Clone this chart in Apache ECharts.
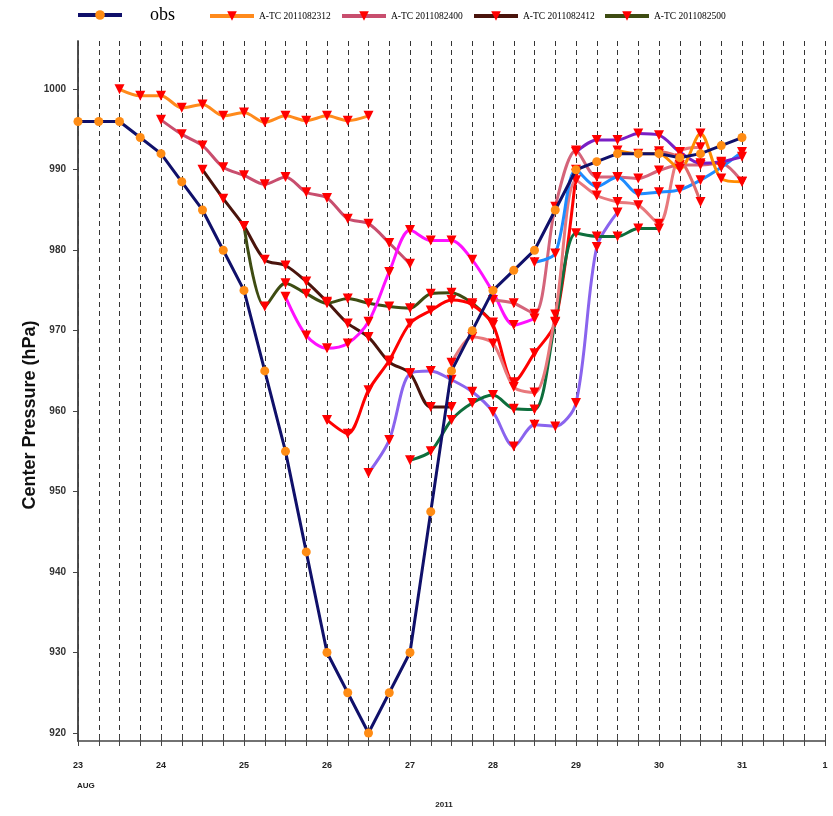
<!DOCTYPE html>
<html><head><meta charset="utf-8">
<script src="https://cdn.jsdelivr.net/npm/echarts@6/dist/echarts.min.js"></script>
<style>html,body{margin:0;padding:0;background:#fff}#c{width:833px;height:816px}</style>
</head><body><div id="c"></div>
<script>
// x in hours since 2011-08-23 00Z; forecasts every 6 h
const dayLabels = ['23','24','25','26','27','28','29','30','31','1'];
const yTicks = [920,930,940,950,960,970,980,990,1000];

const obs = [996,996,996,994,992,988.5,985,980,975,965,955,942.5,930,925,920,925,930,947.5,965,970,975,977.5,980,985,990,991,992,992,992,991.5,992,993,994];
const f2312 = [1000,999.2,999.2,997.7,998.1,996.7,997.1,995.9,996.7,996.1,996.7,996.1,996.7];
const f2400 = [996.2,994.4,993,990.3,989.3,988.2,989.1,987.2,986.5,983.9,983.3,980.9,978.3];
const f2412 = [990,986.4,983,978.8,978.1,976.1,973.6,970.9,969.2,966.1,964.7,960.5,960.5];
const f2500 = [983,973,975.9,974.6,973.4,974,973.4,973,972.8,974.6,974.7,973.4,971];
const f2512 = [974.2,969.4,967.8,968.4,971.1,977.3,982.5,981.2,981.2,978.8,974.8,970.7,971.5];
const f2600 = [958.9,957.2,962.6,966.3,970.9,972.5,973.8,973.2,970.7,963.6,967.2,971,989.5];
const f2612 = [952.3,956.4,964.7,965,963.9,962.4,959.9,955.6,958.3,958.1,961,980.4,984.7];
const f2700 = [953.9,955,958.9,961,962,960.3,960.2,971.1,982.1,981.7,981.7,982.7,982.7];
const f2712 = [966,969.2,968.4,963,962.3,972,988.7,986.8,986,985.6,983.3,992.2,992.8];
const f2800 = [973.8,973.4,972.1,985.4,992.4,989.1,989.1,988.9,989.9,990.6,990.6,990.8,988.5];
const f2812 = [978.5,979.6,990,987.9,989.1,987,987.2,987.5,988.7,990.3,992.2];
const f2900 = [992.2,993.7,993.7,994.5,994.3,992.2,990.8,991,991.6];
const f2912 = [992.4,992,992,990.1,994.5,988.9,988.5];
const f3000 = [992.3,991.4,986];

const tri = 'path://M0,0 L10,0 L5,10 Z';
const specs = [
  {name:'A-TC 2011082312', start:12,  vals:f2312, color:'#ff8a1c'},
  {name:'A-TC 2011082400', start:24,  vals:f2400, color:'#c84e6e'},
  {name:'A-TC 2011082412', start:36,  vals:f2412, color:'#4a140c'},
  {name:'A-TC 2011082500', start:48,  vals:f2500, color:'#3e4c12'},
  {name:'A-TC 2011082512', start:60,  vals:f2512, color:'#ff10ff'},
  {name:'A-TC 2011082600', start:72,  vals:f2600, color:'#ff0000'},
  {name:'A-TC 2011082612', start:84,  vals:f2612, color:'#8a64ee'},
  {name:'A-TC 2011082700', start:96,  vals:f2700, color:'#0e6e3c'},
  {name:'A-TC 2011082712', start:108, vals:f2712, color:'#e8787c'},
  {name:'A-TC 2011082800', start:120, vals:f2800, color:'#d4647a'},
  {name:'A-TC 2011082812', start:132, vals:f2812, color:'#1e8cff'},
  {name:'A-TC 2011082900', start:144, vals:f2900, color:'#7a1ec4'},
  {name:'A-TC 2011082912', start:156, vals:f2912, color:'#ff8c00'},
  {name:'A-TC 2011083000', start:168, vals:f3000, color:'#e06a6a'}
];

const series = [{
  name:'obs', type:'line', z:3,
  data: obs.map((v,i)=>[6*i, v]),
  symbol:'circle', symbolSize:9,
  lineStyle:{color:'#10106a', width:3},
  itemStyle:{color:'#ff8c14'},
  emphasis:{disabled:true}
}].concat(specs.map(s => ({
  name:s.name, type:'line', smooth:0.3, z:2,
  data: s.vals.map((v,i)=>[s.start+6*i, v]),
  symbol:tri, symbolSize:[10,10],
  lineStyle:{color:s.color, width:3},
  itemStyle:{color:'#ff0000'},
  emphasis:{disabled:true}
})));

const legendNames = ['obs'].concat(specs.slice(0,4).map(s=>s.name));
const legendLefts = [76, 208, 340, 472, 603];
const legends = legendNames.map((n, i) => ({
  left: legendLefts[i], top: i === 0 ? 6 : 11, padding: 0, itemWidth: 44, itemHeight: 12,
  lineStyle: {width: 4},
  data: [n],
  formatter: t => t === 'obs' ? '{o|obs}' : '{s|' + t + '}',
  textStyle: {rich: {
    o: {fontFamily:'Liberation Serif', fontSize:18, color:'#000', padding:[0,0,0,23]},
    s: {fontFamily:'Liberation Serif', fontSize:9.5, color:'#000'}
  }}
}));

const chart = echarts.init(document.getElementById('c'));
chart.setOption({
  animation:false,
  backgroundColor:'#fff',
  grid:{left:78, right:8, top:41, height:700},
  legend: legends,
  xAxis:[{
    type:'value', min:0, max:216, interval:6,
    axisLine:{lineStyle:{color:'#444', width:1.5}},
    axisTick:{show:true, length:5, lineStyle:{color:'#444'}},
    axisLabel:{margin:20, fontFamily:'Arial', fontWeight:'bold', fontSize:9, color:'#222',
      formatter: v => v % 24 === 0 ? dayLabels[v/24] : ''},
    splitLine:{show:true, lineStyle:{color:'#333', width:1, type:[5,4]}}
  },{
    type:'value', min:0, max:216, interval:6, position:'bottom',
    axisLine:{show:false}, axisLabel:{show:false}, splitLine:{show:false},
    axisTick:{show:true, inside:true, length:6, lineStyle:{color:'#444'}}
  }],
  yAxis:[{
    type:'value', min:919, max:1006,
    axisLine:{show:true, lineStyle:{color:'#444', width:1.5}},
    axisTick:{show:true, length:5, customValues:yTicks, lineStyle:{color:'#444'}},
    axisLabel:{margin:12, fontFamily:'Arial', fontWeight:'bold', fontSize:10, color:'#333',
      customValues:yTicks, formatter: v => String(v)},
    splitLine:{show:false}
  },{
    type:'value', min:919, max:1006, position:'right',
    axisLine:{show:true, lineStyle:{color:'#444', width:1.5}},
    axisTick:{show:false}, axisLabel:{show:false}, splitLine:{show:false}
  }],
  graphic:[
    {type:'text', x:30, y:415, rotation:Math.PI/2,
     style:{text:'Center Pressure (hPa)', font:'bold 18px Arial', fill:'#111', textAlign:'center', textVerticalAlign:'middle'}},
    {type:'text', left:77, top:782, style:{text:'AUG', font:'bold 8px Arial', fill:'#222'}},
    {type:'text', x:444, y:805, style:{text:'2011', font:'bold 8px Arial', fill:'#222', textAlign:'center', textVerticalAlign:'middle'}}
  ],
  series: series
});
</script></body></html>
